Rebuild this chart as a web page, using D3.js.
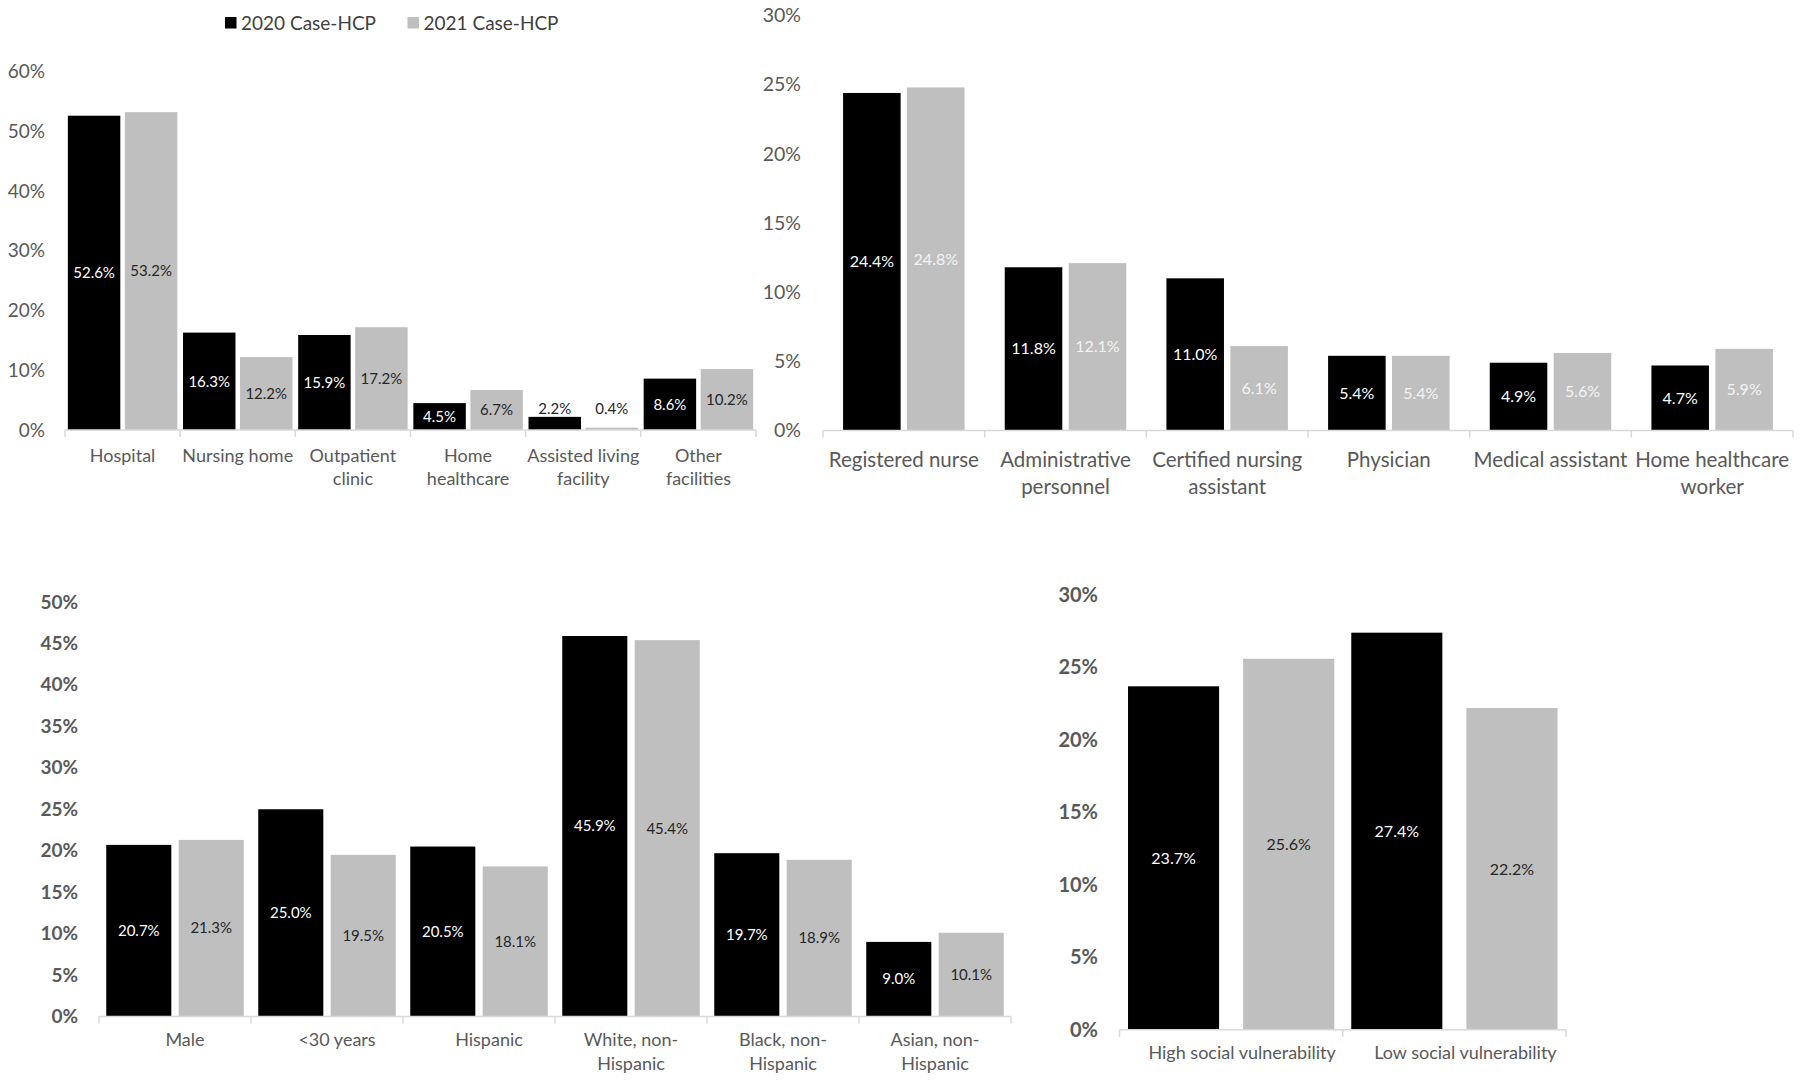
<!DOCTYPE html>
<html>
<head>
<meta charset="utf-8">
<script src="https://cdn.jsdelivr.net/npm/d3@7"></script>
<style>
  body { margin: 0; background: #fff; }
  text { font-family: Lato, "Open Sans", sans-serif; }
</style>
</head>
<body>
<svg id="chart" width="1800" height="1081"></svg>
<script>
// series
const seriesNames = ["2020 Case-HCP", "2021 Case-HCP"];

// facility type
const facilityCats = ["Hospital", "Nursing home", "Outpatient\nclinic", "Home\nhealthcare", "Assisted living\nfacility", "Other\nfacilities"];
const facility2020 = [52.6, 16.3, 15.9, 4.5, 2.2, 8.6];
const facility2021 = [53.2, 12.2, 17.2, 6.7, 0.4, 10.2];
const facilityTicks = [0, 10, 20, 30, 40, 50, 60];

// occupation
const occupationCats = ["Registered nurse", "Administrative\npersonnel", "Certified nursing\nassistant", "Physician", "Medical assistant", "Home healthcare\nworker"];
const occupation2020 = [24.4, 11.8, 11.0, 5.4, 4.9, 4.7];
const occupation2021 = [24.8, 12.1, 6.1, 5.4, 5.6, 5.9];
const occupationTicks = [0, 5, 10, 15, 20, 25, 30];

// demographics
const demoCats = ["Male", "<30 years", "Hispanic", "White, non-\nHispanic", "Black, non-\nHispanic", "Asian, non-\nHispanic"];
const demo2020 = [20.7, 25.0, 20.5, 45.9, 19.7, 9.0];
const demo2021 = [21.3, 19.5, 18.1, 45.4, 18.9, 10.1];
const demoTicks = [0, 5, 10, 15, 20, 25, 30, 35, 40, 45, 50];

// social vulnerability
const sviCats = ["High social vulnerability", "Low social vulnerability"];
const svi2020 = [23.7, 27.4];
const svi2021 = [25.6, 22.2];
const sviTicks = [0, 5, 10, 15, 20, 25, 30];

const colors = ["#000000", "#bfbfbf"];
const svg = d3.select("#chart");

const panels = [
  { cats: facilityCats, v: [facility2020, facility2021], ticks: facilityTicks,
    left: 65, right: 756, base: 430, top: 71.5, max: 60, yLab: 45,
    pi: 0.08, po: 0.05, catSize: 18, catOff: 26, lineH: 23, shift1: 0, shift2: 0,
    tickSize: 19, tickWeight: 400, valSize: 15, grayText: "#262626" },
  { cats: occupationCats, v: [occupation2020, occupation2021], ticks: occupationTicks,
    left: 823, right: 1793, base: 430.5, top: 15.5, max: 30, yLab: 801,
    pi: 0.1, po: 0.314, catSize: 20.5, catOff: 29.5, lineH: 26.5, shift1: 0, shift2: 0,
    tickSize: 19.5, tickWeight: 400, valSize: 16, grayText: "#f4f4f4" },
  { cats: demoCats, v: [demo2020, demo2021], ticks: demoTicks,
    left: 99, right: 1011, base: 1016.5, top: 602, max: 50, yLab: 78,
    pi: 0.102, po: 0.1, catSize: 18, catOff: 23.5, lineH: 24, shift1: 10, shift2: 0,
    tickSize: 19, tickWeight: 700, valSize: 15, grayText: "#262626" },
  { cats: sviCats, v: [svi2020, svi2021], ticks: sviTicks,
    left: 1119.5, right: 1566, base: 1029.8, top: 595, max: 30, yLab: 1098,
    pi: 0.209, po: 0.074, catSize: 18, catOff: 23, lineH: 24, shift1: 11, shift2: 0,
    tickSize: 20, tickWeight: 700, valSize: 16, grayText: "#262626" }
];

panels.forEach(drawPanel);

function drawPanel(p) {
  const g = svg.append("g");

  const x = d3.scaleBand().domain(p.cats).range([p.left, p.right]).padding(0);
  const xs = d3.scaleBand().domain([0, 1]).range([0, x.bandwidth()])
    .paddingInner(p.pi).paddingOuter(p.po);
  const y = d3.scaleLinear().domain([0, p.max]).range([p.base, p.top]);

  // y tick labels
  const ya = g.append("g")
    .attr("transform", `translate(${p.yLab},0)`)
    .call(d3.axisLeft(y).tickValues(p.ticks).tickSize(0).tickPadding(0).tickFormat(d => d + "%"));
  ya.select(".domain").remove();
  ya.selectAll("text")
    .attr("fill", "#595959")
    .style("font-size", p.tickSize + "px")
    .style("font-weight", p.tickWeight)
    .style("font-family", "Lato, 'Open Sans', sans-serif");

  // bars
  const rows = [];
  p.cats.forEach((c, i) => {
    p.v.forEach((vals, s) => rows.push({ cat: c, s: s, val: vals[i] }));
  });

  g.selectAll("rect.bar").data(rows).join("rect")
    .attr("class", "bar")
    .attr("x", d => x(d.cat) + xs(d.s))
    .attr("width", xs.bandwidth())
    .attr("y", d => y(d.val))
    .attr("height", d => y(0) - y(d.val))
    .attr("fill", d => colors[d.s]);

  // value labels (small bars get the label above)
  g.selectAll("text.val").data(rows).join("text")
    .attr("class", "val")
    .attr("x", d => x(d.cat) + xs(d.s) + xs.bandwidth() / 2)
    .attr("y", d => {
      const h = y(0) - y(d.val);
      return h < 22 ? y(0) - 21 : (y(d.val) + y(0)) / 2;
    })
    .attr("dy", "0.35em")
    .attr("text-anchor", "middle")
    .style("font-size", p.valSize + "px")
    .attr("fill", d => {
      const h = y(0) - y(d.val);
      if (h < 22) return "#262626";
      return d.s === 0 ? "#ffffff" : p.grayText;
    })
    .text(d => d.val.toFixed(1) + "%");

  // baseline and category boundary ticks
  g.append("line")
    .attr("x1", p.left).attr("x2", p.right)
    .attr("y1", y(0)).attr("y2", y(0))
    .attr("stroke", "#d9d9d9").attr("stroke-width", 1.5);
  const bounds = p.cats.map(c => x(c)).concat([p.right]);
  g.selectAll("line.tk").data(bounds).join("line")
    .attr("class", "tk")
    .attr("x1", d => d).attr("x2", d => d)
    .attr("y1", y(0)).attr("y2", y(0) + 7)
    .attr("stroke", "#d9d9d9").attr("stroke-width", 1.5);

  // category labels
  const xa = g.append("g")
    .attr("transform", `translate(0,${y(0)})`)
    .call(d3.axisBottom(x).tickSize(0).tickPadding(0));
  xa.select(".domain").remove();
  xa.selectAll("text")
    .attr("fill", "#595959")
    .style("font-size", p.catSize + "px")
    .style("font-family", "Lato, 'Open Sans', sans-serif")
    .attr("y", null).attr("dy", null)
    .each(function (d) {
      const t = d3.select(this);
      const lines = d.split("\n");
      const dx = lines.length > 1 ? p.shift2 : p.shift1;
      t.text(null);
      lines.forEach((line, i) => {
        t.append("tspan")
          .attr("x", dx)
          .attr("y", p.catOff + i * p.lineH)
          .attr("dy", "0.35em")
          .text(line);
      });
    });
}

// legend
const legend = svg.append("g");
const legendX = [225, 407.5];
seriesNames.forEach((name, i) => {
  legend.append("rect")
    .attr("x", legendX[i]).attr("y", 17)
    .attr("width", 11.5).attr("height", 11.5)
    .attr("fill", colors[i]);
  legend.append("text")
    .attr("x", legendX[i] + 16).attr("y", 23)
    .attr("dy", "0.35em")
    .attr("fill", "#404040")
    .style("font-size", "19px")
    .text(name);
});
</script>
</body>
</html>
